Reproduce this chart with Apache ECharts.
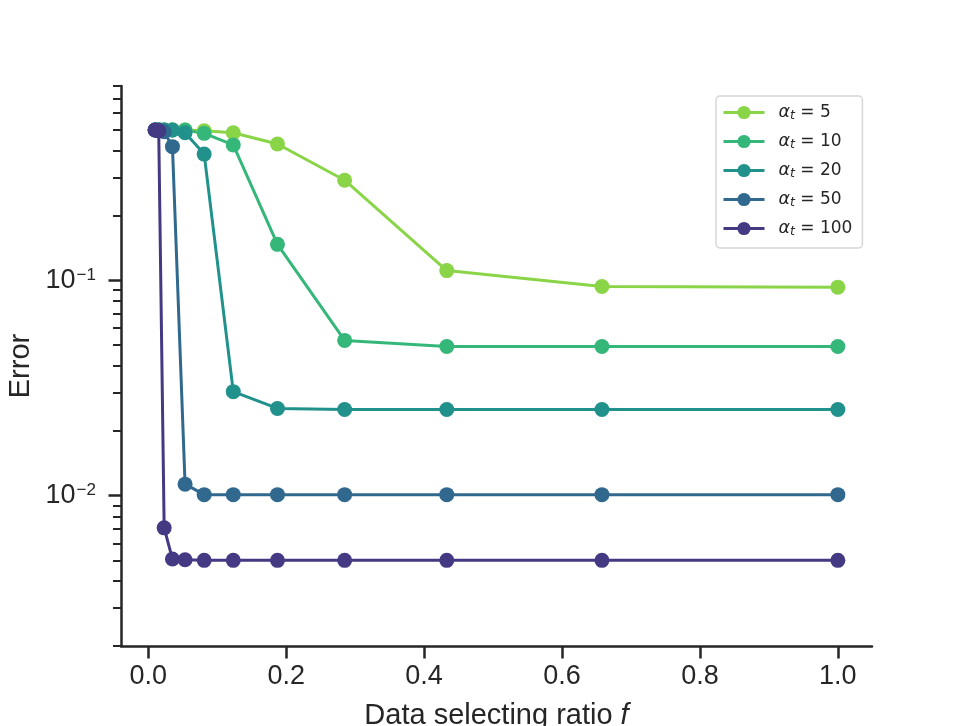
<!DOCTYPE html>
<html>
<head>
<meta charset="utf-8">
<script src="https://cdn.jsdelivr.net/npm/echarts@6/dist/echarts.min.js"></script>
<style>
  html, body { margin: 0; padding: 0; background: #fff; }
  #main { width: 968px; height: 726px; }
</style>
</head>
<body>
<div id="main"></div>
<script>
var myChart = echarts.init(document.getElementById('main'));

// data selecting ratio f (log spaced)
var ratios = [0.01, 0.0152, 0.0231, 0.0351, 0.0534, 0.0811, 0.1233, 0.1874, 0.2848, 0.4329, 0.6579, 1.0];

var alphas = [5, 10, 20, 50, 100];
var err5   = [0.5, 0.5, 0.5, 0.5, 0.5, 0.495, 0.485, 0.43, 0.292, 0.111, 0.0937, 0.093];
var err10  = [0.5, 0.5, 0.5, 0.5, 0.5, 0.482, 0.426, 0.147, 0.0526, 0.0493, 0.0493, 0.0493];
var err20  = [0.5, 0.5, 0.5, 0.5, 0.485, 0.386, 0.0304, 0.0254, 0.0251, 0.0251, 0.0251, 0.0251];
var err50  = [0.5, 0.5, 0.49, 0.418, 0.0113, 0.0101, 0.0101, 0.0101, 0.0101, 0.0101, 0.0101, 0.0101];
var err100 = [0.5, 0.495, 0.00708, 0.00507, 0.00503, 0.005, 0.005, 0.005, 0.005, 0.005, 0.005, 0.005];
var errors = [err5, err10, err20, err50, err100];

var colors = ['#8ad547', '#35b779', '#21918c', '#31688e', '#443983'];

var xTicks = [0, 0.2, 0.4, 0.6, 0.8, 1.0];
var yMajor = [0.01, 0.1];
var yMinor = [0.002, 0.003, 0.004, 0.005, 0.006, 0.007, 0.008, 0.009,
              0.02, 0.03, 0.04, 0.05, 0.06, 0.07, 0.08, 0.09,
              0.2, 0.3, 0.4, 0.5, 0.6, 0.7, 0.8];

var ink = '#262626';
var font = '"Liberation Sans", Arial, sans-serif';

var series = [];
for (var i = 0; i < alphas.length; i++) {
    var pts = [];
    for (var j = 0; j < ratios.length; j++) {
        pts.push([ratios[j], errors[i][j]]);
    }
    series.push({
        name: 'a' + alphas[i],
        type: 'line',
        data: pts,
        symbol: 'circle',
        symbolSize: 15,
        showSymbol: true,
        color: colors[i],
        lineStyle: { width: 3, color: colors[i] },
        itemStyle: { color: colors[i] },
        emphasis: { disabled: true },
        animation: false
    });
}

var legendNames = {};
for (var k = 0; k < alphas.length; k++) legendNames['a' + alphas[k]] = alphas[k];

option = {
    backgroundColor: '#fff',
    animation: false,
    grid: { left: 121, right: 96, top: 86, bottom: 80, outerBoundsMode: 'none', containLabel: false },
    legend: {
        orient: 'vertical',
        left: 716,
        top: 96,
        padding: [7, 10, 10, 6],
        itemWidth: 41,
        itemHeight: 16.5,
        itemGap: 10,
        backgroundColor: '#fff',
        borderColor: '#d6d6d6',
        borderWidth: 1.5,
        borderRadius: 4,
        lineStyle: { width: 3 },
        data: series.map(function (s) { return s.name; }),
        formatter: function (name) {
            return '{a|α}{t|t}{e| = ' + legendNames[name] + '}';
        },
        textStyle: {
            padding: [0, 0, 0, 9],
            rich: {
                a: { fontFamily: 'DejaVu Sans', fontStyle: 'italic', fontSize: 17.5, lineHeight: 16, color: ink },
                t: { fontFamily: 'DejaVu Sans', fontStyle: 'italic', fontSize: 12.5, lineHeight: 10, color: ink, padding: [6, 0, 0, 0] },
                e: { fontFamily: 'DejaVu Sans', fontSize: 17, lineHeight: 16, color: ink }
            }
        }
    },
    xAxis: {
        type: 'value',
        min: -0.0395,
        max: 1.0495,
        name: '{n|Data selecting ratio }{i|f}',
        nameLocation: 'middle',
        nameGap: 55,
        nameMoveOverlap: false,
        nameTextStyle: {
            rich: {
                n: { fontFamily: font, fontSize: 29, color: ink },
                i: { fontFamily: font, fontStyle: 'italic', fontSize: 29, color: ink }
            }
        },
        axisLine: { show: true, onZero: false, lineStyle: { color: ink, width: 2.5 } },
        axisTick: { show: true, customValues: xTicks, length: 12.5, lineStyle: { color: ink, width: 2.5 } },
        axisLabel: {
            customValues: xTicks,
            margin: 17,
            fontFamily: font,
            fontSize: 27,
            color: ink,
            formatter: function (v) { return v.toFixed(1); }
        },
        splitLine: { show: false }
    },
    yAxis: [
        {
            type: 'log',
            min: 0.002,
            max: 0.8,
            name: 'Error',
            nameLocation: 'middle',
            nameGap: 86,
            nameMoveOverlap: false,
            nameTextStyle: { fontFamily: font, fontSize: 29, color: ink },
            axisLine: { show: true, onZero: false, lineStyle: { color: ink, width: 2.5 } },
            axisTick: { show: true, customValues: yMajor, length: 12.5, lineStyle: { color: ink, width: 2.5 } },
            axisLabel: {
                customValues: yMajor,
                margin: 25,
                formatter: function (v) {
                    var e = Math.round(Math.log(v) / Math.LN10);
                    return '{b|10}{s|' + (e < 0 ? '\u2212' + (-e) : e) + '}';
                },
                rich: {
                    b: { fontFamily: font, fontSize: 27, color: ink, lineHeight: 27, verticalAlign: 'bottom' },
                    s: { fontFamily: font, fontSize: 17, color: ink, lineHeight: 17, padding: [0, 0, 25, 1], verticalAlign: 'top' }
                }
            },
            splitLine: { show: false }
        },
        {
            type: 'log',
            min: 0.002,
            max: 0.8,
            position: 'left',
            offset: 0,
            axisLine: { show: false, onZero: false },
            axisTick: { show: true, customValues: yMinor, length: 8, lineStyle: { color: ink, width: 2 } },
            axisLabel: { show: false },
            splitLine: { show: false }
        }
    ],
    series: series
};

myChart.setOption(option);
</script>
</body>
</html>
